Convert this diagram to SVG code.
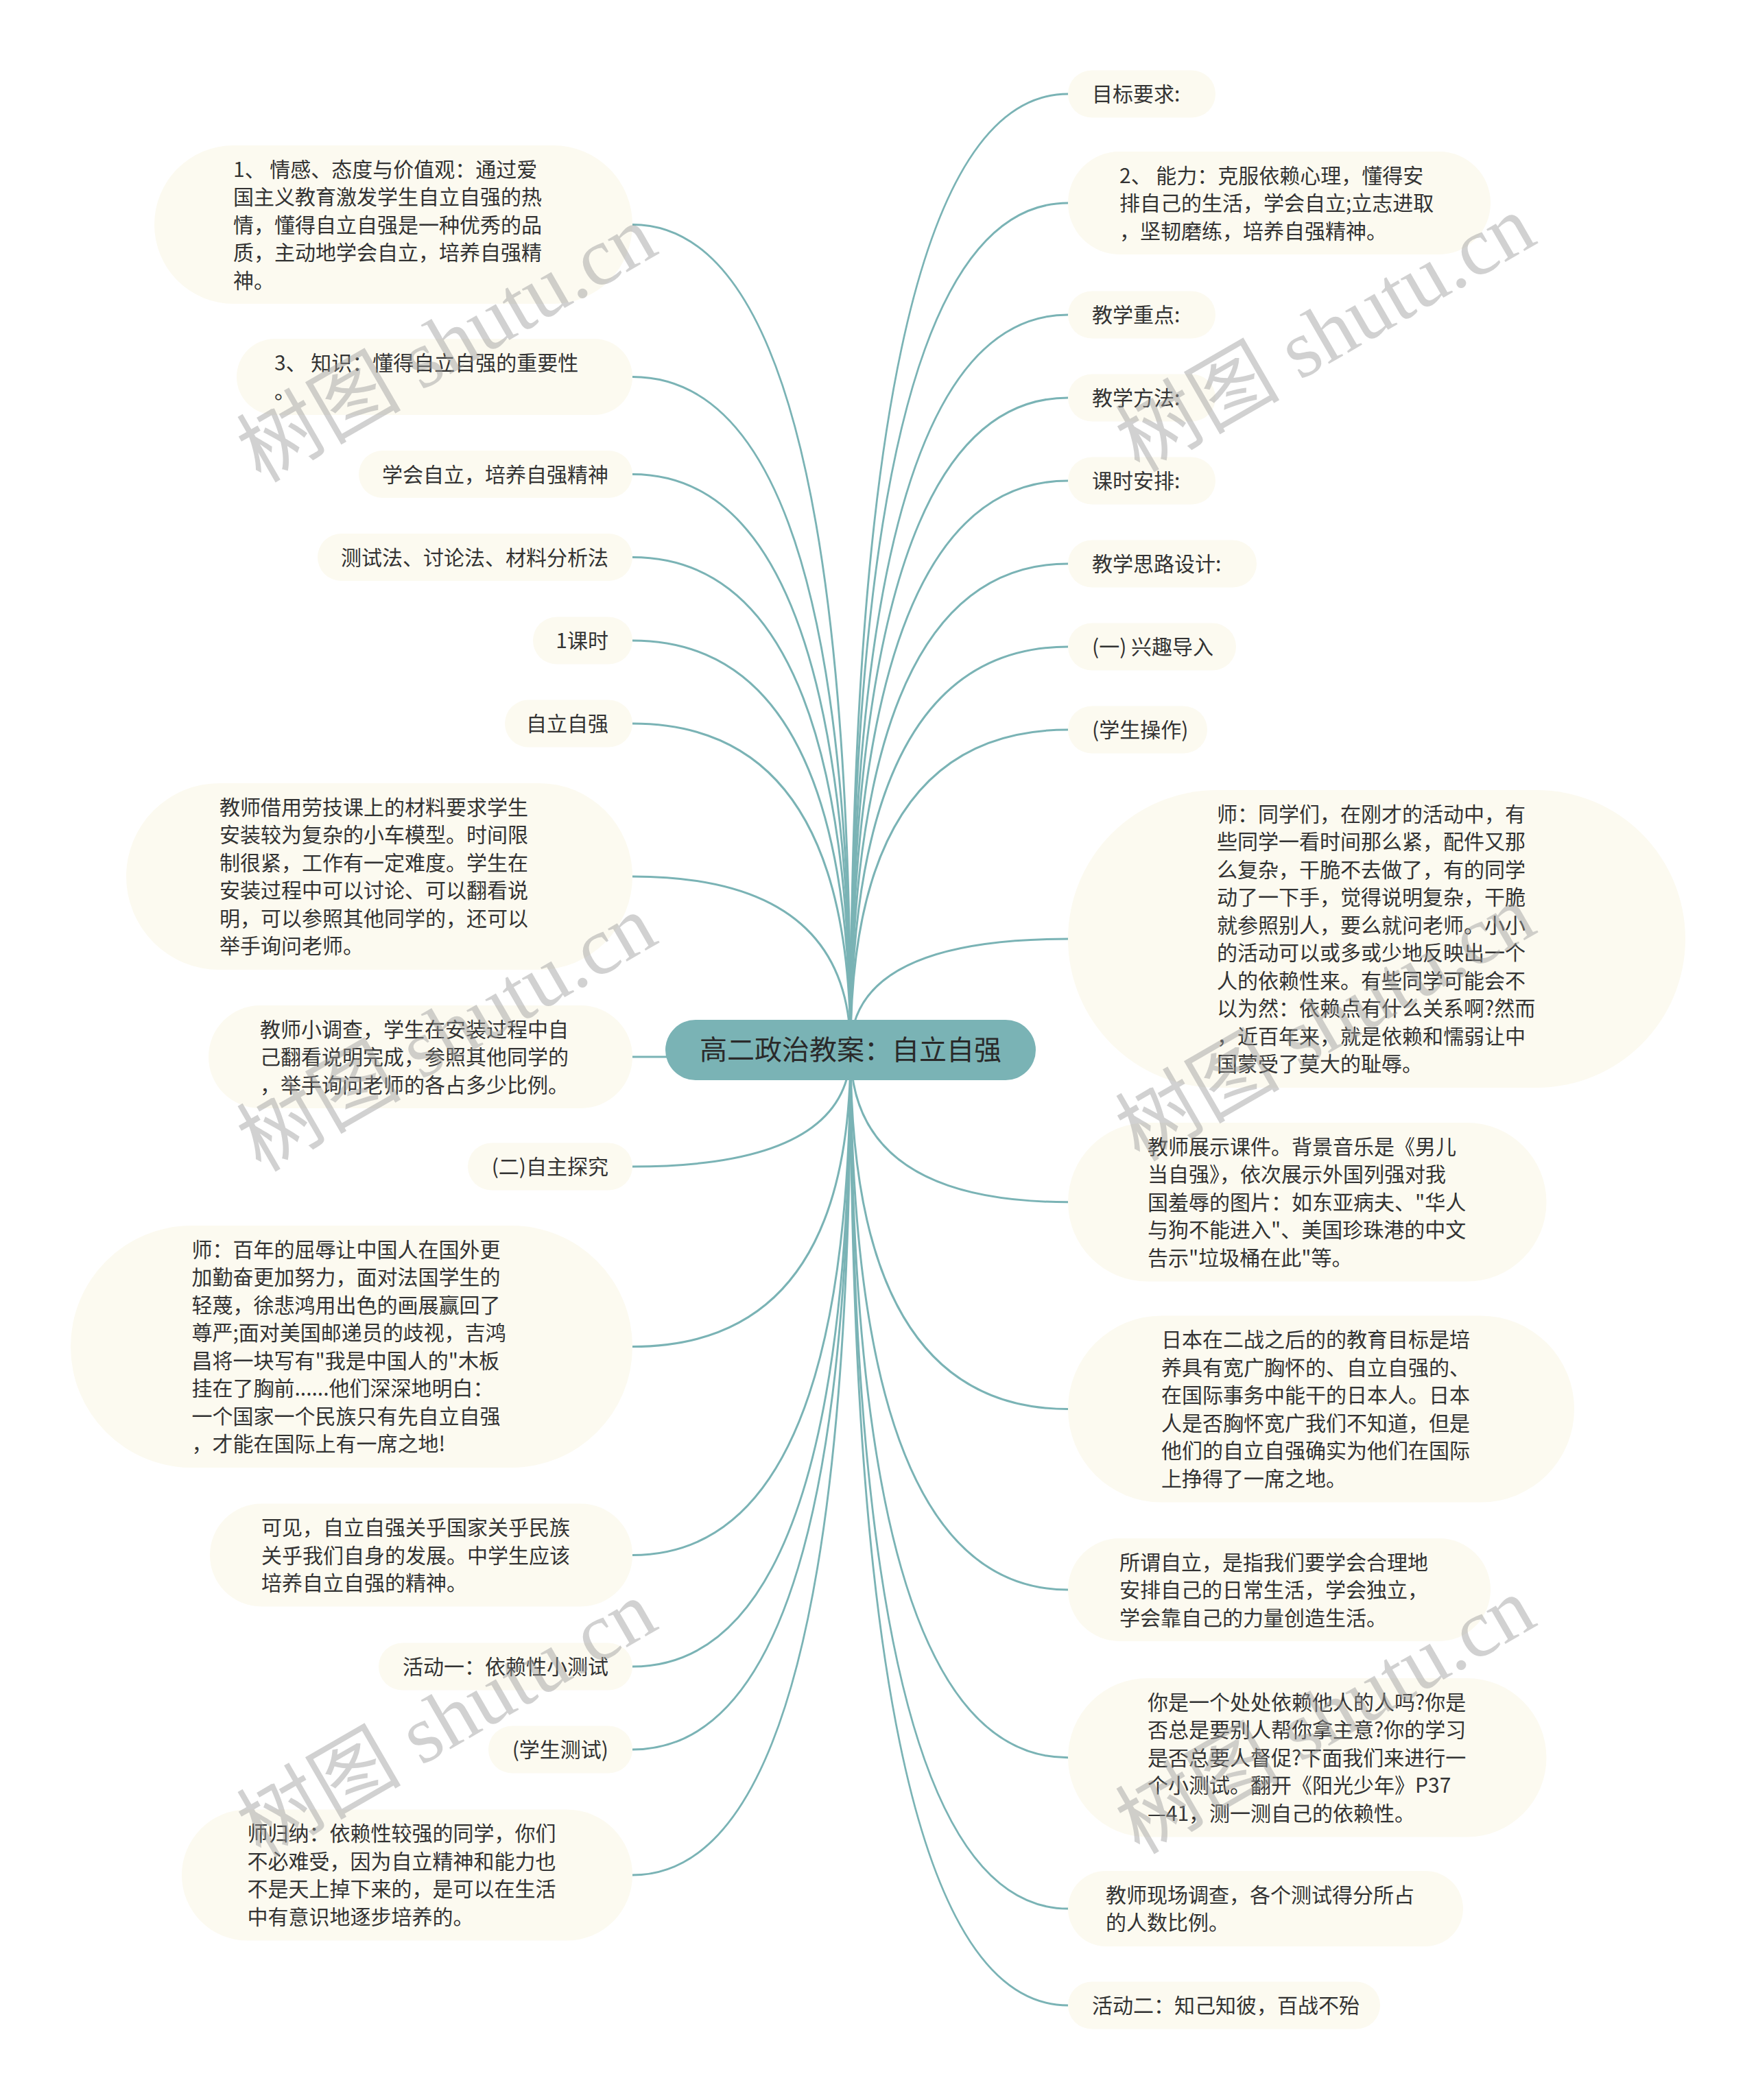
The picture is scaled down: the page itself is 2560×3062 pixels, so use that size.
<svg xmlns="http://www.w3.org/2000/svg" width="2560" height="3062" viewBox="0 0 2560 3062">
<style>
.bg{fill:#ffffff}
.nb{fill:#fcfaf0}
.t{font-family:"Noto Sans CJK SC","Noto Sans",sans-serif;font-size:30px;fill:#333333}
.te{text-anchor:end}
.c{fill:none;stroke:#7ab3b5;stroke-width:3}
.root{fill:#7ab3b5}
.rt{font-family:"Noto Sans CJK SC","Noto Sans",sans-serif;font-size:40px;fill:#2a2a2a;text-anchor:middle}
.wm{font-family:"Liberation Serif","Noto Sans CJK SC",serif;font-size:120px;fill:#999999;fill-opacity:0.45}
</style>
<rect class="bg" x="0" y="0" width="2560" height="3062"/>
<g id="connectors">
<path class="c" d="M1240,1531 Q1240,327.5 922,327.5"/>
<path class="c" d="M1240,1531 Q1240,549.5 922,549.5"/>
<path class="c" d="M1240,1531 Q1240,691.5 922,691.5"/>
<path class="c" d="M1240,1531 Q1240,812.5 922,812.5"/>
<path class="c" d="M1240,1531 Q1240,934 922,934"/>
<path class="c" d="M1240,1531 Q1240,1055 922,1055"/>
<path class="c" d="M1240,1531 Q1240,1278 922,1278"/>
<path class="c" d="M1240,1531 Q1240,1541 922,1541"/>
<path class="c" d="M1240,1531 Q1240,1701 922,1701"/>
<path class="c" d="M1240,1531 Q1240,1963.5 922,1963.5"/>
<path class="c" d="M1240,1531 Q1240,2267.5 922,2267.5"/>
<path class="c" d="M1240,1531 Q1240,2430 922,2430"/>
<path class="c" d="M1240,1531 Q1240,2551 922,2551"/>
<path class="c" d="M1240,1531 Q1240,2734 922,2734"/>
<path class="c" d="M1240,1531 Q1240,137 1557,137"/>
<path class="c" d="M1240,1531 Q1240,296 1557,296"/>
<path class="c" d="M1240,1531 Q1240,459 1557,459"/>
<path class="c" d="M1240,1531 Q1240,580 1557,580"/>
<path class="c" d="M1240,1531 Q1240,701 1557,701"/>
<path class="c" d="M1240,1531 Q1240,822 1557,822"/>
<path class="c" d="M1240,1531 Q1240,943 1557,943"/>
<path class="c" d="M1240,1531 Q1240,1064 1557,1064"/>
<path class="c" d="M1240,1531 Q1240,1369 1557,1369"/>
<path class="c" d="M1240,1531 Q1240,1752.75 1557,1752.75"/>
<path class="c" d="M1240,1531 Q1240,2054.5 1557,2054.5"/>
<path class="c" d="M1240,1531 Q1240,2318 1557,2318"/>
<path class="c" d="M1240,1531 Q1240,2562.75 1557,2562.75"/>
<path class="c" d="M1240,1531 Q1240,2783 1557,2783"/>
<path class="c" d="M1240,1531 Q1240,2924 1557,2924"/>
</g>
<g id="root">
<rect class="root" x="970" y="1487" width="540" height="88" rx="44"/>
<text class="rt" x="1240" y="1545">高二政治教案：自立自强</text>
</g>
<g id="L1"><rect class="nb" x="225" y="212" width="697" height="231" rx="115.5"/>
<text class="t"><tspan x="340" y="257.5">1、 情感、态度与价值观：通过爱</tspan><tspan x="340" y="298">国主义教育激发学生自立自强的热</tspan><tspan x="340" y="338.5">情，懂得自立自强是一种优秀的品</tspan><tspan x="340" y="379">质，主动地学会自立，培养自强精</tspan><tspan x="340" y="419.5">神。</tspan></text></g>
<g id="L2"><rect class="nb" x="345" y="494" width="577" height="111" rx="55.5"/>
<text class="t"><tspan x="400" y="540">3、 知识：懂得自立自强的重要性</tspan><tspan x="400" y="581">。</tspan></text></g>
<g id="L3"><rect class="nb" x="523" y="657" width="399" height="69" rx="34.5"/>
<text class="t te" x="887" y="702.5">学会自立，培养自强精神</text></g>
<g id="L4"><rect class="nb" x="463" y="778" width="459" height="69" rx="34.5"/>
<text class="t te" x="887" y="823.5">测试法、讨论法、材料分析法</text></g>
<g id="L5"><rect class="nb" x="777" y="899.5" width="145" height="69" rx="34.5"/>
<text class="t te" x="887" y="945">1课时</text></g>
<g id="L6"><rect class="nb" x="736" y="1020.5" width="186" height="69" rx="34.5"/>
<text class="t te" x="887" y="1066">自立自强</text></g>
<g id="L7"><rect class="nb" x="184" y="1142" width="738" height="272" rx="136"/>
<text class="t"><tspan x="320" y="1187.75">教师借用劳技课上的材料要求学生</tspan><tspan x="320" y="1228.25">安装较为复杂的小车模型。时间限</tspan><tspan x="320" y="1268.75">制很紧，工作有一定难度。学生在</tspan><tspan x="320" y="1309.25">安装过程中可以讨论、可以翻看说</tspan><tspan x="320" y="1349.75">明，可以参照其他同学的，还可以</tspan><tspan x="320" y="1390.25">举手询问老师。</tspan></text></g>
<g id="L8"><rect class="nb" x="304" y="1466" width="618" height="150" rx="75"/>
<text class="t"><tspan x="379" y="1511.5">教师小调查，学生在安装过程中自</tspan><tspan x="379" y="1552">己翻看说明完成，参照其他同学的</tspan><tspan x="379" y="1592.5">，举手询问老师的各占多少比例。</tspan></text></g>
<g id="L9"><rect class="nb" x="682" y="1666.5" width="240" height="69" rx="34.5"/>
<text class="t te" x="887" y="1712">(二)自主探究</text></g>
<g id="L10"><rect class="nb" x="103" y="1787" width="819" height="353" rx="176.5"/>
<text class="t"><tspan x="279.5" y="1832.75">师：百年的屈辱让中国人在国外更</tspan><tspan x="279.5" y="1873.25">加勤奋更加努力，面对法国学生的</tspan><tspan x="279.5" y="1913.75">轻蔑，徐悲鸿用出色的画展赢回了</tspan><tspan x="279.5" y="1954.25">尊严;面对美国邮递员的歧视，吉鸿</tspan><tspan x="279.5" y="1994.75">昌将一块写有"我是中国人的"木板</tspan><tspan x="279.5" y="2035.25">挂在了胸前......他们深深地明白：</tspan><tspan x="279.5" y="2075.75">一个国家一个民族只有先自立自强</tspan><tspan x="279.5" y="2116.25">，才能在国际上有一席之地!</tspan></text></g>
<g id="L11"><rect class="nb" x="306" y="2192.5" width="616" height="150" rx="75"/>
<text class="t"><tspan x="381" y="2238">可见，自立自强关乎国家关乎民族</tspan><tspan x="381" y="2278.5">关乎我们自身的发展。中学生应该</tspan><tspan x="381" y="2319">培养自立自强的精神。</tspan></text></g>
<g id="L12"><rect class="nb" x="552" y="2395.5" width="370" height="69" rx="34.5"/>
<text class="t te" x="887" y="2441">活动一：依赖性小测试</text></g>
<g id="L13"><rect class="nb" x="712" y="2516.5" width="210" height="69" rx="34.5"/>
<text class="t te" x="887" y="2562">(学生测试)</text></g>
<g id="L14"><rect class="nb" x="265" y="2638.5" width="657" height="191" rx="95.5"/>
<text class="t"><tspan x="360.5" y="2684.25">师归纳：依赖性较强的同学，你们</tspan><tspan x="360.5" y="2724.75">不必难受，因为自立精神和能力也</tspan><tspan x="360.5" y="2765.25">不是天上掉下来的，是可以在生活</tspan><tspan x="360.5" y="2805.75">中有意识地逐步培养的。</tspan></text></g>
<g id="R1"><rect class="nb" x="1557" y="102.5" width="215" height="69" rx="34.5"/>
<text class="t" x="1592" y="148">目标要求:</text></g>
<g id="R2"><rect class="nb" x="1557" y="221" width="616" height="150" rx="75"/>
<text class="t"><tspan x="1632" y="266.5">2、 能力：克服依赖心理，懂得安</tspan><tspan x="1632" y="307">排自己的生活，学会自立;立志进取</tspan><tspan x="1632" y="347.5">，坚韧磨练，培养自强精神。</tspan></text></g>
<g id="R3"><rect class="nb" x="1557" y="424.5" width="215" height="69" rx="34.5"/>
<text class="t" x="1592" y="470">教学重点:</text></g>
<g id="R4"><rect class="nb" x="1557" y="545.5" width="215" height="69" rx="34.5"/>
<text class="t" x="1592" y="591">教学方法:</text></g>
<g id="R5"><rect class="nb" x="1557" y="666.5" width="215" height="69" rx="34.5"/>
<text class="t" x="1592" y="712">课时安排:</text></g>
<g id="R6"><rect class="nb" x="1557" y="787.5" width="275" height="69" rx="34.5"/>
<text class="t" x="1592" y="833">教学思路设计:</text></g>
<g id="R7"><rect class="nb" x="1557" y="908.5" width="245" height="69" rx="34.5"/>
<text class="t" x="1592" y="954">(一) 兴趣导入</text></g>
<g id="R8"><rect class="nb" x="1557" y="1029.5" width="203" height="69" rx="34.5"/>
<text class="t" x="1592" y="1075">(学生操作)</text></g>
<g id="R9"><rect class="nb" x="1557" y="1152" width="900" height="434" rx="217"/>
<text class="t"><tspan x="1774" y="1197.75">师：同学们，在刚才的活动中，有</tspan><tspan x="1774" y="1238.25">些同学一看时间那么紧，配件又那</tspan><tspan x="1774" y="1278.75">么复杂，干脆不去做了，有的同学</tspan><tspan x="1774" y="1319.25">动了一下手，觉得说明复杂，干脆</tspan><tspan x="1774" y="1359.75">就参照别人，要么就问老师。小小</tspan><tspan x="1774" y="1400.25">的活动可以或多或少地反映出一个</tspan><tspan x="1774" y="1440.75">人的依赖性来。有些同学可能会不</tspan><tspan x="1774" y="1481.25">以为然：依赖点有什么关系啊?然而</tspan><tspan x="1774" y="1521.75">，近百年来，就是依赖和懦弱让中</tspan><tspan x="1774" y="1562.25">国蒙受了莫大的耻辱。</tspan></text></g>
<g id="R10"><rect class="nb" x="1557" y="1637" width="697.5" height="231.5" rx="115.75"/>
<text class="t"><tspan x="1673" y="1682.75">教师展示课件。背景音乐是《男儿</tspan><tspan x="1673" y="1723.25">当自强》，依次展示外国列强对我</tspan><tspan x="1673" y="1763.75">国羞辱的图片：如东亚病夫、"华人</tspan><tspan x="1673" y="1804.25">与狗不能进入"、美国珍珠港的中文</tspan><tspan x="1673" y="1844.75">告示"垃圾桶在此"等。</tspan></text></g>
<g id="R11"><rect class="nb" x="1557" y="1918.5" width="738" height="272" rx="136"/>
<text class="t"><tspan x="1693" y="1964.25">日本在二战之后的的教育目标是培</tspan><tspan x="1693" y="2004.75">养具有宽广胸怀的、自立自强的、</tspan><tspan x="1693" y="2045.25">在国际事务中能干的日本人。日本</tspan><tspan x="1693" y="2085.75">人是否胸怀宽广我们不知道，但是</tspan><tspan x="1693" y="2126.25">他们的自立自强确实为他们在国际</tspan><tspan x="1693" y="2166.75">上挣得了一席之地。</tspan></text></g>
<g id="R12"><rect class="nb" x="1557" y="2243" width="616" height="150" rx="75"/>
<text class="t"><tspan x="1632" y="2288.5">所谓自立，是指我们要学会合理地</tspan><tspan x="1632" y="2329">安排自己的日常生活，学会独立，</tspan><tspan x="1632" y="2369.5">学会靠自己的力量创造生活。</tspan></text></g>
<g id="R13"><rect class="nb" x="1557" y="2447" width="697.5" height="231.5" rx="115.75"/>
<text class="t"><tspan x="1673" y="2492.75">你是一个处处依赖他人的人吗?你是</tspan><tspan x="1673" y="2533.25">否总是要别人帮你拿主意?你的学习</tspan><tspan x="1673" y="2573.75">是否总要人督促?下面我们来进行一</tspan><tspan x="1673" y="2614.25">个小测试。翻开《阳光少年》P37</tspan><tspan x="1673" y="2654.75">—41，测一测自己的依赖性。</tspan></text></g>
<g id="R14"><rect class="nb" x="1557" y="2728" width="576" height="110" rx="55"/>
<text class="t"><tspan x="1612" y="2773.75">教师现场调查，各个测试得分所占</tspan><tspan x="1612" y="2814.25">的人数比例。</tspan></text></g>
<g id="R15"><rect class="nb" x="1557" y="2889.5" width="455" height="69" rx="34.5"/>
<text class="t" x="1592" y="2935">活动二：知己知彼，百战不殆</text></g>
<g id="watermark">
<text class="wm" transform="translate(380,705) rotate(-30)">树图 shutu.cn</text>
<text class="wm" transform="translate(1661,690) rotate(-30)">树图 shutu.cn</text>
<text class="wm" transform="translate(380,1710) rotate(-30)">树图 shutu.cn</text>
<text class="wm" transform="translate(1661,1695) rotate(-30)">树图 shutu.cn</text>
<text class="wm" transform="translate(380,2710) rotate(-30)">树图 shutu.cn</text>
<text class="wm" transform="translate(1661,2705) rotate(-30)">树图 shutu.cn</text>
</g>
</svg>
